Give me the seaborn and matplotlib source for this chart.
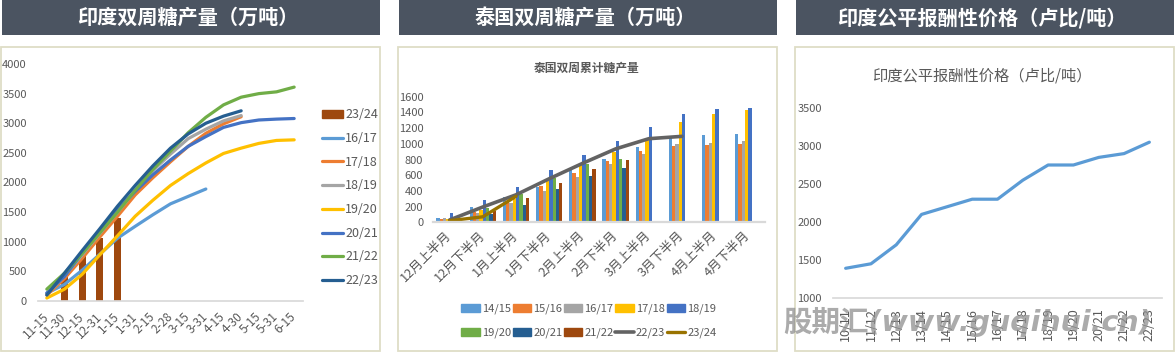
import numpy as np
import pandas as pd
import seaborn as sns
import matplotlib.pyplot as plt
from matplotlib.patches import Rectangle, Patch
from matplotlib.lines import Line2D

# 印度双周糖产量（万吨）
india_periods = ["11-15", "11-30", "12-15", "12-31", "1-15", "1-31", "2-15", "2-28",
                 "3-15", "3-31", "4-15", "4-30", "5-15", "5-31", "6-15"]
india_2324 = [430, 760, 1060, 1400]  # bars, 11-30 .. 1-15
india_1617 = [130, 280, 520, 790, 1060, 1260, 1455, 1640, 1765, 1890]
india_1718 = [100, 380, 720, 1080, 1430, 1790, 2080, 2350, 2610, 2830, 2990, 3110]
india_1819 = [120, 420, 780, 1140, 1500, 1860, 2200, 2480, 2740, 2900, 3040, 3130]
india_1920 = [50, 200, 450, 780, 1100, 1430, 1700, 1950, 2150, 2330, 2490, 2580, 2660, 2710, 2720]
india_2021 = [135, 415, 810, 1175, 1540, 1850, 2130, 2380, 2610, 2775, 2930, 3010, 3055, 3070, 3080]
india_2122 = [200, 470, 800, 1150, 1500, 1870, 2220, 2530, 2840, 3100, 3310, 3440, 3500, 3530, 3610]
india_2223 = [100, 470, 850, 1220, 1600, 1950, 2280, 2580, 2820, 3000, 3120, 3210]

# 泰国双周累计糖产量
thai_periods = ["12月上半月", "12月下半月", "1月上半月", "1月下半月", "2月上半月",
                "2月下半月", "3月上半月", "3月下半月", "4月上半月", "4月下半月"]
thai_1415 = [55, 190, 320, 455, 660, 810, 955, 1080, 1110, 1120]
thai_1516 = [45, 125, 260, 465, 625, 780, 910, 975, 980, 1000]
thai_1617 = [55, 115, 250, 405, 575, 745, 875, 1000, 1010, 1030]
thai_1718 = [40, 155, 300, 520, 745, 900, 1050, 1275, 1385, 1435]
thai_1819 = [115, 280, 445, 660, 860, 1030, 1220, 1385, 1440, 1455]
thai_1920 = [20, 185, 355, 570, 740, 810]
thai_2021 = [10, 100, 220, 430, 585, 695]
thai_2122 = [20, 150, 305, 505, 685, 795]
thai_2223 = [30, 195, 350, 555, 750, 935, 1065, 1095]
thai_2324 = [20, 70, 330]

# 印度公平报酬性价格（卢比/吨）
frp_seasons = ["10/11", "11/12", "12/13", "13/14", "14/15", "15/16", "16/17",
               "17/18", "18/19", "19/20", "20/21", "21/22", "22/23"]
frp_price = [1391, 1450, 1700, 2100, 2200, 2300, 2300, 2550, 2750, 2750, 2850, 2900, 3050]

C = {"14/15": "#5B9BD5", "15/16": "#ED7D31", "16/17": "#A5A5A5", "17/18": "#FFC000",
     "18/19": "#4472C4", "19/20": "#70AD47", "20/21": "#255E91", "21/22": "#9E480E",
     "22/23": "#636363", "23/24": "#997300"}

sns.set_theme(style="white")
plt.rcParams["font.family"] = ["Liberation Sans Narrow", "Noto Sans CJK SC", "DejaVu Sans"]
CJK = ["Noto Sans CJK SC", "DejaVu Sans"]
GREY = "#595959"

W, H = 1175, 354
fig = plt.figure(figsize=(W / 100, H / 100), dpi=100)


def box(x0, y0, x1, y1):
    # pixel box (from top-left) -> figure fraction rect
    return [x0 / W, 1 - y1 / H, (x1 - x0) / W, (y1 - y0) / H]


def panel(x0, x1, title):
    fig.add_artist(Rectangle(box(x0, 0, x1, 35)[:2], (x1 - x0) / W, 35 / H,
                             transform=fig.transFigure, color="#4b5461", lw=0))
    fig.add_artist(Rectangle(box(x0 - 1, 47, x1, 351)[:2], (x1 - x0 + 1) / W, 304 / H,
                             transform=fig.transFigure, fill=False, ec="#deddc6", lw=1.3))
    fig.text((x0 + x1) / 2 / W - 3 / W, 1 - 17.5 / H, title, color="white", fontsize=14.5,
             fontweight="bold", family=CJK, ha="center", va="center")


def style(ax):
    for s in ["top", "right", "left"]:
        ax.spines[s].set_visible(False)
    ax.spines["bottom"].set_color("#d9d9d9")
    ax.tick_params(length=0, colors=GREY, labelsize=8)
    ax.set_xlabel("")
    ax.set_ylabel("")
    ax.grid(False)


def rotate(ax, angle):
    for t in ax.get_xticklabels():
        t.set_rotation(angle)
        t.set_ha("right")
        t.set_va("center")
        t.set_rotation_mode("anchor")


panel(2, 380, "印度双周糖产量（万吨）")
panel(399, 777, "泰国双周糖产量（万吨）")
panel(796, 1174, "印度公平报酬性价格（卢比/吨）")

# ---- panel 1: India biweekly output
ax1 = fig.add_axes(box(38, 64, 303, 301))
df1 = pd.DataFrame({"period": india_periods[1:5], "value": india_2324})
sns.barplot(data=df1, x="period", y="value", order=india_periods, color=C["21/22"],
            width=0.4, saturation=1, errorbar=None, linewidth=0, ax=ax1)
india_lines = [("16/17", india_1617, C["14/15"]), ("17/18", india_1718, C["15/16"]),
               ("18/19", india_1819, C["16/17"]), ("19/20", india_1920, C["17/18"]),
               ("20/21", india_2021, C["18/19"]), ("21/22", india_2122, C["19/20"]),
               ("22/23", india_2223, C["20/21"])]
for lab, vals, col in india_lines:
    sns.lineplot(x=np.arange(len(vals)), y=vals, color=col, lw=2.3, ax=ax1)
ax1.set_xlim(-0.5, 14.5)
ax1.set_ylim(0, 4000)
ax1.set_yticks(range(0, 4001, 500))
style(ax1)
ax1.tick_params(axis="y", pad=8)
ax1.tick_params(axis="x", pad=10, labelsize=8.5)
rotate(ax1, 45)
h1 = [Patch(color=C["21/22"], label="23/24")] + \
     [Line2D([], [], color=col, lw=2.3, label=lab) for lab, vals, col in india_lines]
ax1.legend(handles=h1, loc="upper left", bbox_to_anchor=(322 / W, 1 - 108 / H),
           bbox_transform=fig.transFigure, frameon=False, fontsize=9, handlelength=1.7,
           handleheight=0.6, handletextpad=0.15, labelspacing=0.86, borderpad=0,
           borderaxespad=0, labelcolor=GREY)

# ---- panel 2: Thailand cumulative output
bar_seasons = ["14/15", "15/16", "16/17", "17/18", "18/19", "19/20", "20/21", "21/22"]
bar_values = [thai_1415, thai_1516, thai_1617, thai_1718, thai_1819, thai_1920, thai_2021, thai_2122]
rows = []
for s, vals in zip(bar_seasons, bar_values):
    for p, v in zip(thai_periods, vals):
        rows.append((p, s, v))
thai_df = pd.DataFrame(rows, columns=["period", "season", "value"])

ax2 = fig.add_axes(box(433, 96.7, 765, 222.3))
sns.barplot(data=thai_df, x="period", y="value", hue="season", order=thai_periods,
            hue_order=bar_seasons, palette=[C[s] for s in bar_seasons], width=0.8,
            saturation=1, errorbar=None, legend=False, linewidth=0, ax=ax2)
sns.lineplot(x=np.arange(len(thai_2223)), y=thai_2223, color=C["22/23"], lw=2.6, ax=ax2)
sns.lineplot(x=np.arange(len(thai_2324)), y=thai_2324, color=C["23/24"], lw=2.4, ax=ax2)
ax2.set_xlim(-0.5, 9.5)
ax2.set_ylim(0, 1600)
ax2.set_yticks(range(0, 1601, 200))
style(ax2)
ax2.spines["bottom"].set_linewidth(1.6)
ax2.tick_params(axis="y", pad=7)
ax2.tick_params(axis="x", pad=8, labelsize=9.3)
rotate(ax2, 45)
fig.text(587 / W, 1 - 68 / H, "泰国双周累计糖产量", color=GREY, fontsize=8.5,
         fontweight="bold", family=CJK, ha="center", va="center")
h2 = [Patch(color=C[s], label=s) for s in bar_seasons] + \
     [Line2D([], [], color=C["22/23"], lw=2.6, label="22/23"),
      Line2D([], [], color=C["23/24"], lw=2.4, label="23/24")]
h2 = [h2[i] for i in [0, 5, 1, 6, 2, 7, 3, 8, 4, 9]]  # row-wise order
ax2.legend(handles=h2, loc="upper center", bbox_to_anchor=(589 / W, 1 - 304 / H),
           bbox_transform=fig.transFigure, ncol=5, frameon=False, fontsize=8,
           handlelength=1.65, handleheight=0.65, handletextpad=0.2, columnspacing=0.15,
           labelspacing=1.2, borderpad=0, borderaxespad=0, labelcolor=GREY)

# ---- panel 3: India FRP
ax3 = fig.add_axes(box(833, 108, 1162, 298))
sns.lineplot(x=np.arange(len(frp_price)), y=frp_price, color=C["14/15"], lw=2.3, ax=ax3)
ax3.set_xlim(-0.5, 12.5)
ax3.set_ylim(1000, 3500)
ax3.set_yticks(range(1000, 3501, 500))
ax3.set_xticks(np.arange(len(frp_seasons)))
ax3.set_xticklabels(frp_seasons, rotation=90)
style(ax3)
ax3.tick_params(axis="y", pad=8)
ax3.tick_params(axis="x", pad=7, labelsize=9)
fig.text(982 / W, 1 - 76 / H, "印度公平报酬性价格（卢比/吨）", color=GREY, fontsize=11,
         family=CJK, ha="center", va="center")

# watermark
fig.text(968 / W, 1 - 322 / H, "股期汇(www.guqihui.cn)", color="#8f8f8f", alpha=0.75,
         fontsize=20.5, fontweight="bold", style="italic", family=["DejaVu Sans", "Noto Sans CJK SC"],
         ha="center", va="center", zorder=10)

fig.savefig("out.png", dpi=100)
